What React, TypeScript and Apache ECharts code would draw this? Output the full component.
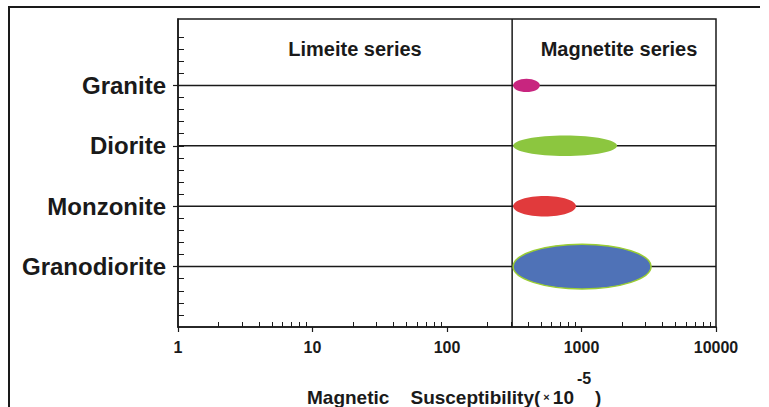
import React, { useEffect, useRef } from 'react';
import * as echarts from 'echarts';

// ---- data ----
const categories = ['Granodiorite', 'Monzonite', 'Diorite', 'Granite'];
const rangeStart = [310, 310, 310, 310];
const rangeEnd = [3290, 910, 1840, 490];
const seriesBoundary = 305;
const regionLabels = ['Limeite series', 'Magnetite series'];
const xMin = 1;
const xMax = 10000;
const minorMultipliers = [2, 3, 4, 5, 6, 7, 8, 9];
const decades = [1, 10, 100, 1000];

// ---- styles ----
const fillColors = ['#4f72b7', '#e13a3c', '#8cc63f', '#c8257f'];
const borderColors = ['#9acd32', 'none', 'none', 'none'];
const halfHeights = [0.37, 0.17, 0.17, 0.11];
const INK = '#1a1a1a';
const FONT = '"Liberation Sans", Arial, Helvetica, sans-serif';

export default function App() {
  const ref = useRef<HTMLDivElement>(null);

  useEffect(() => {
    if (!ref.current) return;
    const chart = echarts.init(ref.current, undefined, { renderer: 'svg' });

    const minorTicks = decades.flatMap((d) => minorMultipliers.map((m) => d * m));
    const yInnerTicks = Array.from({ length: 24 }, (_, k) => +((k + 1) * 0.2).toFixed(1));
    const catValues = categories.map((_, i) => i + 1);
    const rows = categories.map((c, i) => [rangeStart[i], rangeEnd[i], i + 1, c]);

    const option: any = {
      animation: false,
      backgroundColor: '#ffffff',
      grid: {
        left: 178,
        top: 19,
        right: 53,
        bottom: 80,
        show: true,
        borderColor: INK,
        borderWidth: 1.5,
        backgroundColor: 'transparent',
        containLabel: false,
        outerBoundsMode: 'none',
      },
      xAxis: [
        {
          type: 'log',
          logBase: 10,
          min: xMin,
          max: xMax,
          position: 'bottom',
          axisLine: { show: true, lineStyle: { color: INK, width: 1.5 } },
          axisTick: { show: true, inside: false, length: 5, lineStyle: { color: INK, width: 1.2 } },
          axisLabel: {
            show: true,
            margin: 12,
            color: INK,
            fontSize: 16,
            fontWeight: 'bold',
            fontFamily: FONT,
            formatter: (v: number) => String(v),
          },
          splitLine: { show: false },
          minorTick: { show: false },
        },
        {
          type: 'log',
          logBase: 10,
          min: xMin,
          max: xMax,
          position: 'bottom',
          axisLine: { show: false },
          axisTick: {
            show: true,
            inside: true,
            length: 5,
            customValues: minorTicks,
            lineStyle: { color: INK, width: 1 },
          },
          axisLabel: { show: false },
          splitLine: { show: false },
        },
      ],
      yAxis: [
        {
          type: 'value',
          min: 0,
          max: 5.1,
          position: 'left',
          axisLine: { show: true, lineStyle: { color: INK, width: 1.5 } },
          axisTick: {
            show: true,
            inside: true,
            length: 6,
            customValues: yInnerTicks,
            lineStyle: { color: INK, width: 1 },
          },
          axisLabel: { show: false },
          splitLine: { show: false },
        },
        {
          type: 'value',
          min: 0,
          max: 5.1,
          position: 'left',
          axisLine: { show: false },
          axisTick: {
            show: true,
            inside: false,
            length: 5,
            customValues: catValues,
            lineStyle: { color: INK, width: 1.2 },
          },
          axisLabel: {
            show: true,
            customValues: catValues,
            margin: 12,
            color: INK,
            fontSize: 24,
            fontWeight: 'bold',
            fontFamily: FONT,
            formatter: (v: number) => categories[Math.round(v) - 1] ?? '',
          },
          splitLine: { show: false },
        },
      ],
      series: [
        {
          type: 'line',
          xAxisIndex: 0,
          yAxisIndex: 0,
          data: [
            [seriesBoundary, 0],
            [seriesBoundary, 5.1],
          ],
          symbol: 'none',
          silent: true,
          lineStyle: { color: INK, width: 1.5 },
          z: 1,
        },
        {
          type: 'custom',
          xAxisIndex: 0,
          yAxisIndex: 0,
          encode: { x: [0, 1], y: 2 },
          data: rows,
          z: 3,
          renderItem: (params: any, api: any) => {
            const i = params.dataIndex;
            const y = api.value(2);
            const p0 = api.coord([api.value(0), y]);
            const p1 = api.coord([api.value(1), y]);
            const l0 = api.coord([xMin, y]);
            const l1 = api.coord([xMax, y]);
            const top = api.coord([api.value(0), y + halfHeights[i]]);
            const ry = Math.abs(p0[1] - top[1]);
            const bc = borderColors[i];
            return {
              type: 'group',
              children: [
                {
                  type: 'line',
                  shape: { x1: l0[0], y1: l0[1], x2: l1[0], y2: l1[1] },
                  style: { stroke: INK, lineWidth: 1.5 },
                },
                {
                  type: 'ellipse',
                  shape: { cx: (p0[0] + p1[0]) / 2, cy: p0[1], rx: (p1[0] - p0[0]) / 2, ry },
                  style: {
                    fill: fillColors[i],
                    stroke: bc === 'none' ? null : bc,
                    lineWidth: bc === 'none' ? 0 : 1.5,
                  },
                },
              ],
            };
          },
        },
      ],
      graphic: [
        {
          type: 'polyline',
          shape: { points: [[9, 407], [9, 7], [760, 7]] },
          style: { stroke: INK, lineWidth: 2, fill: null },
          silent: true,
        },
        {
          type: 'text',
          x: 355,
          y: 49,
          style: {
            text: regionLabels[0],
            fontSize: 20,
            fontWeight: 'bold',
            fontFamily: FONT,
            fill: INK,
            align: 'center',
            verticalAlign: 'middle',
          },
        },
        {
          type: 'text',
          x: 619,
          y: 49,
          style: {
            text: regionLabels[1],
            fontSize: 20,
            fontWeight: 'bold',
            fontFamily: FONT,
            fill: INK,
            align: 'center',
            verticalAlign: 'middle',
          },
        },
        {
          type: 'text',
          x: 307,
          y: 397,
          style: {
            text: '{a|Magnetic    Susceptibility(}{b| × }{a|10    )}',
            fill: INK,
            align: 'left',
            verticalAlign: 'middle',
            rich: {
              a: { fontSize: 19, fontWeight: 'bold', fontFamily: FONT, fill: INK },
              b: { fontSize: 11, fontWeight: 'bold', fontFamily: FONT, fill: INK },
            },
          },
        },
        {
          type: 'text',
          x: 584,
          y: 378,
          style: {
            text: '-5',
            fontSize: 16,
            fontWeight: 'bold',
            fontFamily: FONT,
            fill: INK,
            align: 'center',
            verticalAlign: 'middle',
          },
        },
      ],
    };

    chart.setOption(option);
    return () => chart.dispose();
  }, []);

  return (
    <div
      ref={ref}
      style={{ position: 'fixed', left: 0, top: 0, width: 769, height: 407, background: '#fff' }}
    />
  );
}
